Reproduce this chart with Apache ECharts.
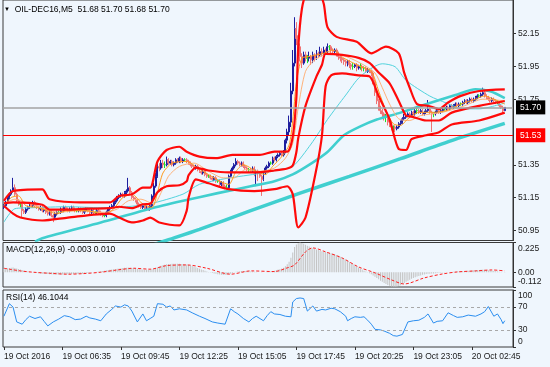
<!DOCTYPE html>
<html><head><meta charset="utf-8">
<script src="https://cdn.jsdelivr.net/npm/echarts@6/dist/echarts.min.js"></script>
<style>html,body{margin:0;padding:0;background:#eff6fd;} #c{width:550px;height:367px;}</style>
</head><body><div id="c"></div>
<script>
// ---------- tick labels ----------
const xLabels = ['19 Oct 2016','19 Oct 06:35','19 Oct 09:45','19 Oct 12:25','19 Oct 15:05','19 Oct 17:45','19 Oct 20:25','19 Oct 23:05','20 Oct 02:45'];
const labelStep = 32;
const slotCount = 279;
const priceTicks = [52.15, 51.95, 51.75, 51.35, 51.15, 50.95];
const macdTicks = [0.225, 0, -0.112];
const rsiTicks = [100, 70, 30, 0];
const lastPrice = 51.70;
const levelPrice = 51.53;
const rsiLevels = [70, 30];

// ---------- candles (M5) ----------
const open = [51.09,51.10,51.12,51.15,51.17,51.19,51.21,51.17,51.13,51.11,
51.11,51.07,51.06,51.08,51.09,51.11,51.10,51.12,51.10,51.09,
51.08,51.09,51.07,51.08,51.06,51.05,51.06,51.04,51.03,51.05,
51.06,51.06,51.08,51.07,51.09,51.08,51.07,51.08,51.09,51.08,
51.07,51.07,51.08,51.07,51.06,51.07,51.08,51.07,51.06,51.07,
51.06,51.06,51.07,51.06,51.05,51.04,51.04,51.06,51.08,51.09,
51.10,51.12,51.13,51.15,51.16,51.17,51.16,51.18,51.19,51.21,
51.18,51.15,51.14,51.13,51.11,51.10,51.09,51.10,51.08,51.09,
51.08,51.10,51.16,51.22,51.28,51.34,51.33,51.36,51.35,51.35,
51.38,51.36,51.37,51.35,51.36,51.38,51.37,51.39,51.37,51.38,
51.38,51.37,51.36,51.35,51.34,51.33,51.34,51.32,51.31,51.30,
51.31,51.29,51.28,51.28,51.27,51.26,51.27,51.25,51.25,51.23,
51.24,51.22,51.21,51.21,51.28,51.31,51.33,51.35,51.37,51.36,
51.35,51.36,51.34,51.33,51.32,51.32,51.31,51.33,51.30,51.31,
51.30,51.28,51.26,51.30,51.33,51.34,51.36,51.36,51.39,51.38,
51.40,51.41,51.42,51.41,51.43,51.50,51.55,51.61,51.80,51.97,
52.18,52.12,52.07,52.01,51.97,52.02,52.00,52.00,52.01,51.99,
52.02,52.00,52.03,52.02,52.04,52.03,52.05,52.04,52.07,52.07,
52.05,52.04,52.05,52.03,52.01,52.00,51.99,51.98,51.97,51.98,
51.96,51.95,51.95,51.96,51.94,51.95,51.95,51.94,51.94,51.92,
51.93,51.92,51.91,51.86,51.79,51.74,51.70,51.68,51.66,51.64,
51.64,51.61,51.60,51.58,51.58,51.57,51.58,51.60,51.61,51.63,
51.64,51.65,51.66,51.65,51.67,51.66,51.68,51.68,51.67,51.68,
51.66,51.67,51.68,51.69,51.67,51.66,51.66,51.67,51.68,51.67,
51.68,51.69,51.69,51.70,51.69,51.71,51.70,51.71,51.72,51.71,
51.72,51.72,51.73,51.74,51.73,51.74,51.75,51.74,51.75,51.76,
51.77,51.77,51.78,51.79,51.77,51.76,51.75,51.74,51.75,51.74,
51.73,51.73,51.71,51.70,51.68];
const close = [51.10,51.12,51.15,51.17,51.19,51.21,51.17,51.13,51.11,51.11,
51.07,51.06,51.08,51.09,51.11,51.10,51.12,51.10,51.09,51.08,
51.09,51.07,51.08,51.06,51.05,51.06,51.04,51.03,51.05,51.06,
51.06,51.08,51.07,51.09,51.08,51.07,51.08,51.09,51.08,51.07,
51.07,51.08,51.07,51.06,51.07,51.08,51.07,51.06,51.07,51.06,
51.06,51.07,51.06,51.05,51.04,51.04,51.06,51.08,51.09,51.10,
51.12,51.13,51.15,51.16,51.17,51.16,51.18,51.19,51.21,51.18,
51.15,51.14,51.13,51.11,51.10,51.09,51.10,51.08,51.09,51.08,
51.10,51.16,51.22,51.28,51.34,51.33,51.36,51.35,51.35,51.38,
51.36,51.37,51.35,51.36,51.38,51.37,51.39,51.37,51.38,51.38,
51.37,51.36,51.35,51.34,51.33,51.34,51.32,51.31,51.30,51.31,
51.29,51.28,51.28,51.27,51.26,51.27,51.25,51.25,51.23,51.24,
51.22,51.21,51.21,51.28,51.31,51.33,51.35,51.37,51.36,51.35,
51.36,51.34,51.33,51.32,51.32,51.31,51.33,51.30,51.31,51.30,
51.28,51.26,51.30,51.33,51.34,51.36,51.36,51.39,51.38,51.40,
51.41,51.42,51.41,51.43,51.50,51.55,51.61,51.80,51.97,52.18,
52.12,52.07,52.01,51.97,52.02,52.00,52.00,52.01,51.99,52.02,
52.00,52.03,52.02,52.04,52.03,52.05,52.04,52.07,52.07,52.05,
52.04,52.05,52.03,52.01,52.00,51.99,51.98,51.97,51.98,51.96,
51.95,51.95,51.96,51.94,51.95,51.95,51.94,51.94,51.92,51.93,
51.92,51.91,51.86,51.79,51.74,51.70,51.68,51.66,51.64,51.64,
51.61,51.60,51.58,51.58,51.57,51.58,51.60,51.61,51.63,51.64,
51.65,51.66,51.65,51.67,51.66,51.68,51.68,51.67,51.68,51.66,
51.67,51.68,51.69,51.67,51.66,51.66,51.67,51.68,51.67,51.68,
51.69,51.69,51.70,51.69,51.71,51.70,51.71,51.72,51.71,51.72,
51.72,51.73,51.74,51.73,51.74,51.75,51.74,51.75,51.76,51.77,
51.77,51.78,51.79,51.77,51.76,51.75,51.74,51.75,51.74,51.73,
51.73,51.71,51.70,51.68,51.70];
const high = [51.11,51.13,51.16,51.18,51.20,51.27,51.23,51.18,51.14,51.12,
51.12,51.08,51.09,51.10,51.12,51.12,51.13,51.13,51.11,51.10,
51.10,51.10,51.09,51.09,51.07,51.07,51.07,51.05,51.06,51.07,
51.07,51.09,51.09,51.10,51.10,51.09,51.09,51.10,51.10,51.09,
51.08,51.09,51.09,51.08,51.08,51.09,51.09,51.08,51.08,51.08,
51.07,51.08,51.08,51.07,51.06,51.05,51.07,51.09,51.10,51.11,
51.13,51.14,51.16,51.17,51.18,51.18,51.19,51.20,51.27,51.22,
51.19,51.16,51.15,51.14,51.12,51.11,51.11,51.11,51.10,51.10,
51.11,51.17,51.24,51.30,51.36,51.36,51.38,51.38,51.37,51.40,
51.39,51.38,51.38,51.37,51.39,51.39,51.40,51.40,51.39,51.39,
51.39,51.38,51.37,51.36,51.35,51.35,51.35,51.33,51.32,51.32,
51.32,51.30,51.29,51.29,51.28,51.28,51.28,51.26,51.26,51.25,
51.25,51.23,51.23,51.29,51.32,51.34,51.36,51.39,51.38,51.37,
51.37,51.37,51.35,51.34,51.33,51.33,51.34,51.34,51.32,51.32,
51.31,51.29,51.31,51.34,51.35,51.37,51.37,51.40,51.40,51.41,
51.42,51.43,51.43,51.44,51.51,51.57,51.65,51.85,52.05,52.25,
52.22,52.14,52.09,52.03,52.04,52.04,52.02,52.04,52.02,52.04,
52.03,52.05,52.04,52.07,52.06,52.07,52.06,52.09,52.08,52.08,
52.06,52.06,52.06,52.04,52.02,52.01,52.00,51.99,51.99,51.99,
51.97,51.97,51.97,51.97,51.96,51.97,51.96,51.95,51.95,51.94,
51.94,51.93,51.92,51.87,51.80,51.75,51.71,51.69,51.67,51.66,
51.65,51.62,51.61,51.59,51.59,51.59,51.61,51.62,51.64,51.66,
51.66,51.67,51.67,51.68,51.68,51.69,51.70,51.69,51.69,51.69,
51.68,51.69,51.745,51.70,51.68,51.67,51.68,51.69,51.69,51.69,
51.70,51.70,51.71,51.71,51.72,51.72,51.72,51.73,51.73,51.73,
51.73,51.74,51.75,51.75,51.75,51.76,51.76,51.76,51.77,51.78,
51.78,51.79,51.82,51.80,51.78,51.77,51.76,51.76,51.76,51.75,
51.74,51.74,51.72,51.71,51.70];
const low = [51.08,51.09,51.11,51.14,51.16,51.18,51.16,51.12,51.10,51.09,
51.03,51.05,51.05,51.07,51.08,51.09,51.09,51.09,51.08,51.07,
51.07,51.06,51.06,51.05,51.04,51.04,51.03,51.00,51.02,51.04,
51.05,51.05,51.06,51.06,51.07,51.06,51.06,51.07,51.07,51.06,
51.06,51.06,51.06,51.05,51.05,51.06,51.06,51.05,51.05,51.05,
51.05,51.05,51.05,51.04,51.03,51.03,51.03,51.05,51.07,51.08,
51.09,51.11,51.12,51.14,51.15,51.15,51.15,51.17,51.18,51.17,
51.14,51.13,51.12,51.10,51.09,51.08,51.08,51.07,51.07,51.07,
51.07,51.09,51.15,51.21,51.27,51.31,51.32,51.33,51.33,51.34,
51.35,51.35,51.34,51.34,51.35,51.36,51.36,51.36,51.36,51.37,
51.36,51.35,51.34,51.33,51.32,51.32,51.31,51.30,51.29,51.29,
51.28,51.27,51.27,51.26,51.25,51.25,51.24,51.24,51.22,51.22,
51.21,51.20,51.20,51.20,51.27,51.30,51.32,51.34,51.35,51.34,
51.34,51.33,51.32,51.31,51.30,51.30,51.30,51.28,51.22,51.25,
51.27,51.16,51.25,51.29,51.32,51.33,51.35,51.35,51.37,51.37,
51.39,51.40,51.40,51.40,51.42,51.48,51.53,51.58,51.78,51.95,
52.08,52.04,51.98,51.94,51.96,51.98,51.97,51.98,51.96,51.97,
51.98,51.99,52.00,52.01,52.01,52.02,52.02,52.03,52.05,52.03,
52.02,52.02,52.01,51.99,51.98,51.97,51.96,51.95,51.95,51.94,
51.93,51.93,51.94,51.92,51.93,51.93,51.92,51.92,51.91,51.91,
51.91,51.89,51.84,51.77,51.72,51.68,51.66,51.64,51.62,51.61,
51.59,51.58,51.56,51.53,51.55,51.56,51.57,51.59,51.60,51.62,
51.63,51.64,51.64,51.64,51.65,51.65,51.66,51.66,51.66,51.65,
51.65,51.66,51.67,51.66,51.55,51.64,51.65,51.66,51.66,51.66,
51.67,51.68,51.68,51.68,51.68,51.69,51.69,51.70,51.70,51.70,
51.71,51.71,51.72,51.72,51.72,51.73,51.73,51.73,51.74,51.75,
51.76,51.76,51.77,51.76,51.75,51.74,51.73,51.73,51.73,51.72,
51.72,51.70,51.69,51.66,51.68];

// ---------- overlays: [bar index, price] ----------
const bbUpper = [[0,51.13],[5,51.19],[21,51.20],[25,51.14],[45,51.12],[58,51.12],[63,51.16],[70,51.17],[76,51.21],[80,51.21],[84,51.37],[89,51.44],[96,51.46],[100,51.43],[107,51.40],[116,51.39],[125,51.41],[140,51.41],[148,51.43],[155,51.43],[158,51.52],[160,51.76],[161,52.06],[163,52.30],[166,52.42],[169,52.46],[172,52.42],[175,52.33],[177,52.19],[182,52.13],[193,52.10],[201,52.03],[209,52.07],[216,52.03],[219,51.91],[222,51.82],[226,51.72],[232,51.71],[238,51.69],[243,51.73],[250,51.77],[260,51.80],[274,51.81]];
const bbMiddle = [[0,51.115],[5,51.12],[21,51.106],[25,51.076],[35,51.076],[45,51.082],[58,51.085],[63,51.094],[70,51.085],[76,51.109],[80,51.112],[84,51.183],[89,51.219],[96,51.225],[100,51.249],[101,51.285],[105,51.333],[112,51.315],[123,51.303],[137,51.303],[148,51.315],[155,51.327],[158,51.345],[160,51.428],[161,51.512],[165,51.709],[171,51.889],[174,51.96],[176,52.026],[185,52.02],[194,52.002],[200,51.972],[205,51.913],[211,51.847],[216,51.739],[220,51.65],[223,51.644],[231,51.62],[238,51.62],[245,51.668],[260,51.709],[274,51.739]];
const bbLower = [[0,51.10],[5,51.052],[9,51.028],[21,51.01],[35,51.028],[58,51.052],[63,51.028],[70,50.998],[76,51.01],[80,51.028],[85,50.998],[96,50.98],[100,51.07],[101,51.148],[105,51.261],[112,51.237],[123,51.201],[137,51.189],[148,51.201],[155,51.219],[158,51.171],[161,50.968],[165,51.028],[171,51.327],[174,51.53],[176,51.829],[179,51.895],[185,51.907],[194,51.895],[200,51.889],[205,51.769],[211,51.626],[216,51.446],[220,51.44],[223,51.506],[231,51.53],[238,51.548],[245,51.596],[260,51.62],[274,51.668]];
const maFast = [[0,51.10],[4,51.15],[8,51.16],[12,51.10],[18,51.09],[24,51.07],[29,51.05],[34,51.07],[45,51.07],[55,51.05],[60,51.08],[65,51.15],[70,51.17],[76,51.11],[81,51.09],[84,51.18],[87,51.30],[92,51.36],[100,51.37],[106,51.33],[112,51.29],[118,51.25],[123,51.23],[127,51.31],[131,51.35],[138,51.31],[143,51.29],[147,51.34],[152,51.40],[156,51.47],[158,51.62],[160,51.85],[163,52.00],[167,52.01],[175,52.03],[180,52.05],[186,52.00],[195,51.95],[201,51.92],[205,51.80],[209,51.68],[213,51.60],[217,51.59],[221,51.63],[227,51.67],[235,51.67],[242,51.68],[250,51.72],[258,51.75],[263,51.77],[268,51.75],[274,51.72]];
const maSlow = [[0,51.11],[6,51.14],[12,51.12],[20,51.09],[30,51.06],[40,51.07],[55,51.06],[62,51.08],[68,51.13],[75,51.14],[82,51.11],[86,51.18],[90,51.28],[96,51.34],[104,51.36],[112,51.31],[120,51.27],[126,51.27],[132,51.32],[140,51.31],[148,51.33],[154,51.39],[158,51.48],[161,51.70],[165,51.92],[170,51.99],[178,52.03],[185,52.02],[195,51.97],[203,51.91],[207,51.82],[211,51.72],[216,51.63],[222,51.62],[228,51.65],[240,51.67],[252,51.71],[262,51.75],[274,51.74]];
const ma50 = [[0,51.00],[6,51.082],[16,51.088],[35,51.094],[53,51.088],[67,51.094],[80,51.112],[98,51.171],[107,51.231],[122,51.267],[140,51.297],[151,51.321],[158,51.339],[168,51.476],[177,51.626],[187,51.775],[195,51.889],[207,51.966],[214,51.948],[220,51.865],[233,51.769],[242,51.727],[251,51.691],[260,51.691],[274,51.727]];
const ma100 = [[17,50.88],[21,50.902],[53,50.998],[80,51.082],[98,51.13],[117,51.177],[135,51.219],[148,51.249],[158,51.291],[168,51.357],[177,51.428],[186,51.53],[195,51.584],[204,51.626],[217,51.668],[233,51.727],[247,51.775],[258,51.811],[266,51.799],[274,51.757]];
const ma200 = [[80,50.855],[88,50.885],[107,50.956],[135,51.07],[162,51.177],[189,51.279],[217,51.387],[244,51.494],[274,51.602]];

// ---------- MACD(12,26,9) ----------
const macdHist = [0.025,0.028,0.03,0.032,0.034,0.035,0.032,0.028,0.024,0.02,
0.016,0.012,0.009,0.006,0.003,0.0,-0.002,-0.004,-0.006,-0.008,
-0.01,-0.011,-0.012,-0.013,-0.014,-0.015,-0.016,-0.017,-0.018,-0.018,
-0.018,-0.017,-0.017,-0.016,-0.016,-0.015,-0.015,-0.014,-0.014,-0.013,
-0.013,-0.013,-0.012,-0.012,-0.011,-0.008,-0.006,-0.004,-0.002,0.0,
0.002,0.004,0.006,0.008,0.01,0.012,0.014,0.016,0.018,0.02,
0.022,0.024,0.026,0.028,0.03,0.032,0.033,0.034,0.035,0.034,
0.032,0.03,0.028,0.026,0.024,0.022,0.02,0.019,0.018,0.018,
0.019,0.022,0.026,0.032,0.038,0.044,0.048,0.053,0.057,0.06,
0.062,0.063,0.064,0.064,0.065,0.064,0.064,0.063,0.062,0.061,
0.058,0.055,0.051,0.047,0.042,0.037,0.032,0.027,0.021,0.016,
0.011,0.006,0.002,-0.002,-0.006,-0.009,-0.012,-0.015,-0.018,-0.02,
-0.022,-0.022,-0.02,-0.016,-0.011,-0.006,-0.002,0.003,0.006,0.008,
0.009,0.009,0.009,0.008,0.007,0.006,0.005,0.003,0.002,0.0,
-0.001,-0.002,-0.001,0.0,0.002,0.004,0.006,0.009,0.012,0.016,
0.02,0.024,0.028,0.034,0.045,0.06,0.08,0.11,0.15,0.19,
0.21,0.22,0.225,0.222,0.215,0.208,0.2,0.194,0.188,0.182,
0.177,0.172,0.168,0.163,0.159,0.155,0.152,0.149,0.146,0.143,
0.139,0.135,0.13,0.124,0.117,0.11,0.102,0.094,0.086,0.077,
0.068,0.06,0.052,0.044,0.036,0.028,0.02,0.012,0.005,-0.002,
-0.008,-0.015,-0.024,-0.034,-0.044,-0.054,-0.064,-0.073,-0.082,-0.09,
-0.097,-0.103,-0.108,-0.111,-0.112,-0.11,-0.105,-0.098,-0.09,-0.081,
-0.073,-0.065,-0.057,-0.05,-0.044,-0.038,-0.033,-0.028,-0.024,-0.02,
-0.017,-0.014,-0.012,-0.011,-0.01,-0.009,-0.008,-0.006,-0.005,-0.004,
-0.003,-0.002,-0.001,0.0,0.001,0.002,0.003,0.004,0.005,0.006,
0.007,0.008,0.009,0.01,0.011,0.012,0.013,0.014,0.015,0.016,
0.017,0.018,0.019,0.018,0.017,0.015,0.013,0.011,0.009,0.007,
0.005,0.003,0.001,-0.001,-0.003];
const macdSignal = [[0,0.03],[3,0.023],[9,0.01],[16,0],[25,-0.008],[35,-0.015],[43,-0.011],[53,0],[62,0.017],[71,0.03],[80,0.023],[89,0.05],[100,0.055],[111,0.03],[124,-0.015],[135,0.01],[148,0.005],[155,0.033],[159,0.055],[165,0.154],[169,0.184],[176,0.154],[185,0.108],[194,0.04],[203,-0.005],[212,-0.058],[219,-0.089],[230,-0.043],[240,-0.013],[248,0.002],[258,0.01],[267,0.017],[274,0.01]];

// ---------- RSI(14) ----------
const rsi = [[0,54],[3,76],[5,70],[7,44],[10,40],[12,48],[14,54],[17,50],[20,53],[22,45],[24,37],[27,44],[30,49],[33,55],[36,53],[39,48],[42,49],[45,54],[47,51],[50,49],[53,46],[56,58],[59,66],[61,72],[64,70],[66,74],[68,72],[70,63],[73,44],[76,58],[78,46],[80,50],[82,54],[84,76],[87,75],[89,70],[91,72],[93,65],[96,67],[100,65],[103,60],[107,54],[110,50],[114,44],[117,42],[121,40],[124,67],[126,62],[128,58],[131,50],[134,44],[136,50],[138,54],[142,46],[144,55],[146,62],[148,58],[151,57],[154,54],[157,53],[158,79],[160,85],[162,86],[164,85],[166,63],[169,72],[171,63],[174,66],[176,65],[179,68],[181,67],[184,62],[187,54],[188,46],[190,50],[192,53],[195,52],[197,53],[199,47],[201,40],[203,31],[206,30],[208,28],[211,24],[213,20],[215,19],[218,22],[221,44],[224,46],[227,47],[230,52],[232,58],[235,42],[237,45],[240,46],[243,60],[246,55],[248,52],[251,53],[254,56],[258,54],[261,58],[263,62],[265,71],[268,54],[270,58],[272,48],[273,41],[274,46.1]];

// ---------- build ----------
const FONT = "'Liberation Sans', Arial, sans-serif";
const TXT = '#1a1a1a';
const slots = Array.from({length: slotCount}, (_, i) => i);
const dojiStyle = {color:'#22dd22', color0:'#22dd22', borderColor:'#22dd22', borderColor0:'#22dd22'};
const candles = close.map((c, i) => {
  const o = open[i];
  const item = {value: [o, c, Math.min(low[i], o, c), Math.max(high[i], o, c)]};
  if (o === c) item.itemStyle = dojiStyle;
  return item;
});
const showLabel = (idx) => idx % labelStep === 0 && idx / labelStep < xLabels.length;

function xAx(g, last) {
  return {
    type: 'category', gridIndex: g, data: slots, boundaryGap: true,
    axisLine: {show: false},
    axisTick: last ? {show: true, interval: showLabel, alignWithLabel: true, length: 3, lineStyle: {color: '#333'}} : {show: false},
    axisLabel: last ? {show: true, interval: showLabel, formatter: (v, idx) => xLabels[idx / labelStep] || '', align: 'left', margin: 5, fontSize: 8.5, fontFamily: FONT, color: TXT} : {show: false},
    splitLine: {show: false}
  };
}
function yAx(g, min, max, ticks, fmt) {
  return {
    type: 'value', gridIndex: g, position: 'right', min: min, max: max,
    splitLine: {show: false},
    axisLine: {show: true, lineStyle: {color: '#333'}},
    axisTick: {show: true, customValues: ticks, length: 3, lineStyle: {color: '#333'}},
    axisLabel: {customValues: ticks, formatter: fmt, margin: 5, fontSize: 8.5, fontFamily: FONT, color: TXT,
      rich: {t: {padding: [12, 0, 0, 0], fontSize: 8.5, fontFamily: FONT, color: TXT}, b: {padding: [0, 0, 10, 0], fontSize: 8.5, fontFamily: FONT, color: TXT}}}
  };
}
function ln(data, color, width, extra) {
  return Object.assign({type: 'line', data: data, xAxisIndex: 0, yAxisIndex: 0, symbol: 'none', smooth: 0.25,
    lineStyle: {color: color, width: width}, silent: true, animation: false, z: 3}, extra || {});
}
const gridStyle = {show: true, borderColor: '#3a3a3a', borderWidth: 1, backgroundColor: 'transparent'};

const option = {
  backgroundColor: '#eff6fd',
  animation: false,
  title: [
    {text: '{a|▼}  OIL-DEC16,M5  51.68 51.70 51.68 51.70', left: 4, top: 5, padding: 0,
      textStyle: {fontSize: 8.5, fontWeight: 'normal', fontFamily: FONT, color: '#000', rich: {a: {fontSize: 6, color: '#000'}}}},
    {text: 'MACD(12,26,9) -0.003 0.010', left: 6, top: 245.5, padding: 0,
      textStyle: {fontSize: 8.5, fontWeight: 'normal', fontFamily: FONT, color: '#000'}},
    {text: 'RSI(14) 46.1044', left: 6, top: 293.5, padding: 0,
      textStyle: {fontSize: 8.5, fontWeight: 'normal', fontFamily: FONT, color: '#000'}}
  ],
  grid: [
    Object.assign({left: 3, width: 510, top: -5, height: 245.5}, gridStyle),
    Object.assign({left: 3, width: 510, top: 242.5, height: 44.5}, gridStyle),
    Object.assign({left: 3, width: 510, top: 290, height: 57}, gridStyle)
  ],
  xAxis: [xAx(0, false), xAx(1, false), xAx(2, true)],
  yAxis: [
    yAx(0, 50.888, 52.355, priceTicks, v => v.toFixed(2)),
    yAx(1, -0.112, 0.225, macdTicks, v => v === 0.225 ? '{t|0.225}' : v === -0.112 ? '{b|-0.112}' : '0.00'),
    yAx(2, 0, 100, rsiTicks, v => v === 100 ? '{t|100}' : v === 0 ? '{b|0}' : String(v))
  ],
  series: [
    {type: 'candlestick', xAxisIndex: 0, yAxisIndex: 0, data: candles, barWidth: '80%', silent: true, z: 2,
      itemStyle: {color: '#7a7ad6', color0: '#f6a6a6', borderColor: '#1e1e9e', borderColor0: '#f07272', borderWidth: 1},
      markLine: {silent: true, symbol: ['none', 'none'], animation: false,
        data: [
          {yAxis: lastPrice, lineStyle: {color: '#a3a3a3', width: 1.5, type: 'solid'},
            label: {show: true, position: 'end', distance: 3, formatter: lastPrice.toFixed(2), color: '#fff', backgroundColor: '#000', padding: [3, 4, 2, 4], fontSize: 8.5, fontFamily: FONT}},
          {yAxis: levelPrice, lineStyle: {color: '#ff0000', width: 1, type: 'solid'},
            label: {show: true, position: 'end', distance: 3, formatter: levelPrice.toFixed(2), color: '#fff', backgroundColor: '#ff0000', padding: [3, 4, 2, 4], fontSize: 8.5, fontFamily: FONT}}
        ]}},
    ln(ma200, '#40cfcf', 3.5),
    ln(ma100, '#40cfcf', 2.6),
    ln(ma50, '#52d3dd', 1),
    ln(maSlow, '#ffb27a', 1),
    ln(maFast, '#ff9a1a', 1),
    ln(bbUpper, '#ff0a0a', 2.2),
    ln(bbMiddle, '#ff0a0a', 2.2),
    ln(bbLower, '#ff0a0a', 2.2),
    {type: 'bar', xAxisIndex: 1, yAxisIndex: 1, data: macdHist, barWidth: 1, silent: true,
      itemStyle: {color: '#c4c4c4'}},
    {type: 'line', xAxisIndex: 1, yAxisIndex: 1, data: macdSignal, symbol: 'none', smooth: 0.3, silent: true,
      lineStyle: {color: '#ff2020', width: 1, type: [3, 2]}},
    {type: 'line', xAxisIndex: 2, yAxisIndex: 2, data: rsi, symbol: 'none', silent: true,
      lineStyle: {color: '#2b8ef0', width: 1},
      markLine: {silent: true, symbol: ['none', 'none'], label: {show: false},
        data: rsiLevels.map(v => ({yAxis: v, lineStyle: {color: '#a8a8a8', width: 1, type: [3, 3]}}))}}
  ]
};
const chart = echarts.init(document.getElementById('c'), null, {renderer: 'canvas'});
chart.setOption(option);
</script>
</body></html>
